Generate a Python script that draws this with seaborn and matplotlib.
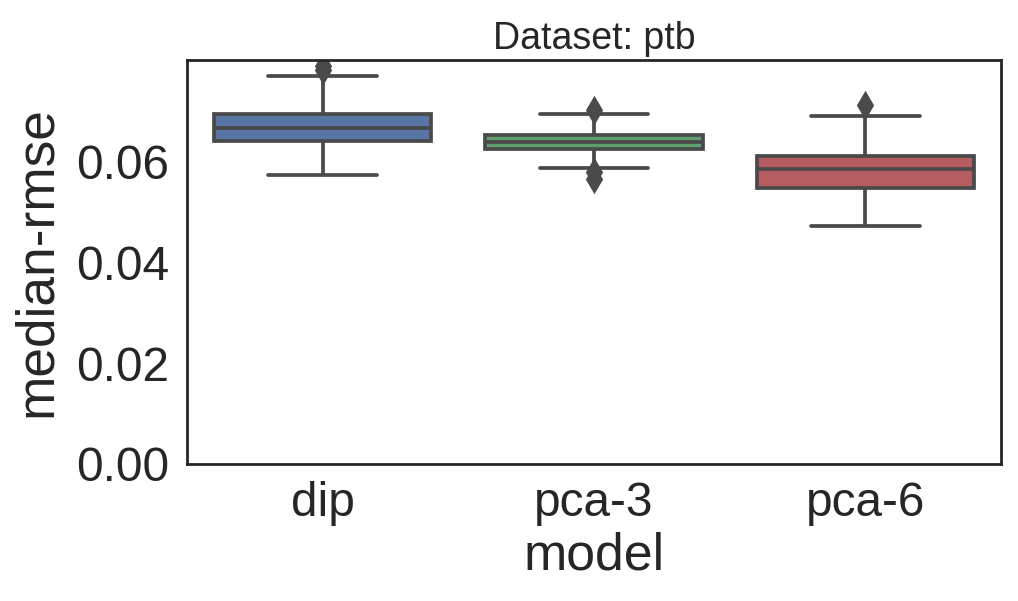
import matplotlib
matplotlib.use("Agg")
import matplotlib.pyplot as plt
import seaborn as sns
import pandas as pd

models = ["dip", "pca-3", "pca-6"]
dip_rmse = [0.0572, 0.0610, 0.0628, 0.0640, 0.0652, 0.0660, 0.0666,
            0.0673, 0.0683, 0.0693, 0.0768, 0.0780, 0.0788]
pca3_rmse = [0.0565, 0.0578, 0.0586, 0.0623, 0.0628, 0.0633, 0.0637,
             0.0641, 0.0646, 0.0652, 0.0670, 0.0693, 0.0701]
pca6_rmse = [0.0471, 0.0505, 0.0530, 0.0546, 0.0560, 0.0572, 0.0584,
             0.0592, 0.0600, 0.0610, 0.0650, 0.0689, 0.0711]
y_ticks = [0.00, 0.02, 0.04, 0.06]

df = pd.DataFrame({
    "model": [models[0]] * len(dip_rmse) + [models[1]] * len(pca3_rmse) + [models[2]] * len(pca6_rmse),
    "median-rmse": dip_rmse + pca3_rmse + pca6_rmse,
})

sns.set_style("white")
plt.rcParams["font.family"] = ["Liberation Sans", "DejaVu Sans"]

deep = sns.color_palette("deep")
palette = [deep[0], deep[2], deep[3]]
gray = "#4a4a4a"

fig = plt.figure(figsize=(5.09, 3.005), dpi=200)
ax = fig.add_axes([0.1837, 0.228, 0.7996, 0.672])
sns.boxplot(data=df, x="model", y="median-rmse", hue="model", palette=palette,
            order=models, width=0.8, linewidth=1.35, linecolor=gray,
            flierprops={"marker": "d", "markerfacecolor": gray,
                        "markeredgecolor": gray, "markersize": 6},
            legend=False, ax=ax)
ax.set_ylim(0, 0.08)
ax.set_yticks(y_ticks)
ax.set_yticklabels([f"{t:.2f}" for t in y_ticks])
ax.tick_params(axis="both", labelsize=17.2, length=0)
ax.tick_params(axis="x", pad=6)
ax.tick_params(axis="y", pad=6.5)
ax.set_xlabel("model", fontsize=18.7, labelpad=2)
ax.set_ylabel("median-rmse", fontsize=19.2, labelpad=5)
ax.set_title("Dataset: ptb", fontsize=13.5, pad=4)
for s in ax.spines.values():
    s.set_color(".15")
    s.set_linewidth(1.0)

fig.savefig("out.png", dpi=200)
